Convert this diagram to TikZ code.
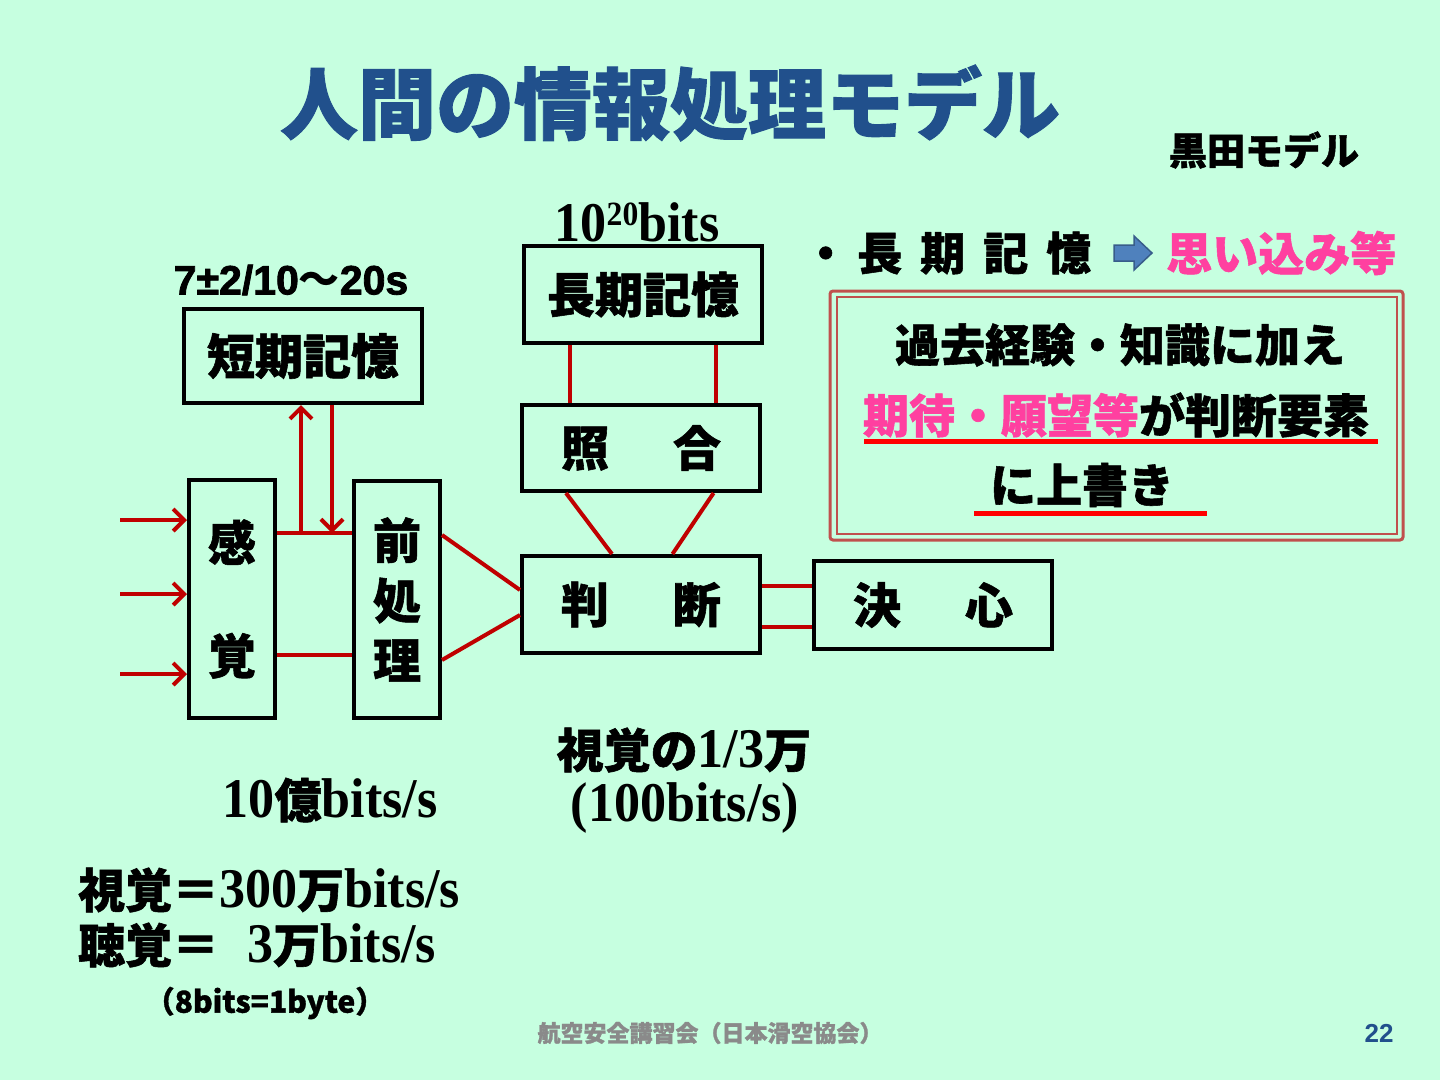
\documentclass[tikz,border=0pt]{standalone}
\usepackage{fontspec}
\usetikzlibrary{arrows.meta,calc}
\setmainfont{Liberation Serif}
\newfontfamily\jp[FakeBold=1.2]{Noto Sans CJK JP}
\newfontfamily\jpn{Noto Sans CJK JP}
\newfontfamily\ser[FakeStretch=0.93]{Liberation Serif}
\newfontfamily\sansf{Liberation Sans}
\newfontfamily\sansh[FakeBold=2]{Liberation Sans}
\newcommand\fsz[1]{\fontsize{#1}{#1}\selectfont}
\newcommand\serf{\ser\bfseries\fsz{56}}
\newcommand\cjf{\jp\bfseries\fsz{47}}
\definecolor{bg}{HTML}{C6FFE0}
\definecolor{linered}{HTML}{C00000}
\definecolor{boxred}{HTML}{C0504D}
\definecolor{pinkt}{HTML}{FF40A0}
\definecolor{titleblue}{HTML}{21508C}
\definecolor{ulred}{HTML}{FF0000}
\definecolor{arrblue}{HTML}{4F81BD}
\definecolor{arrblueb}{HTML}{385D8A}
\definecolor{footgray}{HTML}{8A8A8A}
\tikzset{
  box/.style={draw=black, line width=4pt, inner sep=0pt, font=\jp\bfseries\fsz{48}},
  rl/.style={draw=linered, line width=4pt},
  arr/.style={draw=linered, line width=4pt, -{Straight Barb[length=11pt,width=22pt]}},
  txt/.style={inner sep=0pt},
}
\begin{document}
\begin{tikzpicture}[x=1pt,y=-1pt]
\useasboundingbox (0,0) rectangle (1440,1080);
\fill[bg] (0,0) rectangle (1440,1080);

% title
\node[txt, font=\jp\bfseries\fsz{78}, text=titleblue] (title) at (670,103) {人間の情報処理モデル};
\node[txt, font=\jp\bfseries\fsz{38}] (kuroda) at (1264,150) {黒田モデル};

% boxes
\node[box, minimum width=238pt, minimum height=94pt] (stm) at (303,356) {短期記憶};
\node[box, minimum width=238pt, minimum height=97pt] (ltm) at (643,294.5) {長期記憶};
\node[box, minimum width=238pt, minimum height=86pt] (match) at (641,448) {照\hspace{64pt}合};
\node[box, minimum width=238pt, minimum height=97pt] (judge) at (641,604.5) {判\hspace{64pt}断};
\node[box, minimum width=238pt, minimum height=88pt] (decide) at (933,605) {決\hspace{64pt}心};
\node[box, minimum width=86pt, minimum height=238pt, align=center, font=\jp\bfseries\fontsize{48}{113}\selectfont] (sense) at (232,599) {感\\覚};
\node[box, minimum width=86pt, minimum height=237pt, align=center, font=\jp\bfseries\fontsize{48}{60}\selectfont] (pre) at (397,599.5) {前\\処\\理};

% labels above boxes
\node[txt] (ltmlab) at (637,222) {\ser\bfseries\fsz{56}10\raisebox{16pt}{\fsz{34}20}bits};
\node[txt] (stmlab) at (291,280) {\sansh\bfseries\fsz{41}7±2/10{\jpn\bfseries ～}20s};

% connectors
\draw[rl] ($(ltm.south west)!.2!(ltm.south east)$) coordinate (a1) -- (a1 |- match.north);
\draw[rl] ($(ltm.south west)!.8!(ltm.south east)$) coordinate (a2) -- (a2 |- match.north);
\draw[rl] ($(match.south west)!.19!(match.south east)$) -- ($(judge.north west)!.38!(judge.north east)$);
\draw[rl] ($(match.south west)!.80!(match.south east)$) -- ($(judge.north west)!.63!(judge.north east)$);
\draw[rl] ([yshift=18.5pt]judge.east) coordinate (b1) -- (b1 -| decide.west);
\draw[rl] ([yshift=-22.5pt]judge.east) coordinate (b2) -- (b2 -| decide.west);
\draw[rl] ([yshift=64.5pt]pre.east) -- ([yshift=14.5pt]judge.west);
\draw[rl] ([yshift=-60.5pt]pre.east) -- ([yshift=-10.5pt]judge.west);
\draw[rl] ([yshift=66pt]sense.east) coordinate (c1) -- (c1 -| pre.west);
\draw[rl] ([yshift=-56pt]sense.east) coordinate (c2) -- (c2 -| pre.west);
\coordinate (j1) at ($(c1)+(24,0)$);
\coordinate (j2) at ($(c1)+(55,0)$);
\draw[arr] (j1) -- (j1 |- stm.south);
\draw[arr] (j2 |- stm.south) -- (j2);
\coordinate (i1) at (120,520);
\coordinate (i2) at (120,594);
\coordinate (i3) at (120,674);
\draw[arr] (i1) -- (i1 -| sense.west);
\draw[arr] (i2) -- (i2 -| sense.west);
\draw[arr] (i3) -- (i3 -| sense.west);

% right side note
\node[txt, anchor=west, font=\jp\bfseries\fsz{45}] (ltmnote) at (803,253) {・\hspace{9pt}長\hspace{18pt}期\hspace{18pt}記\hspace{18pt}憶};
\filldraw[fill=arrblue, draw=arrblueb, line width=1.5pt] (1114,245) -- (1134,245) -- (1134,236) -- (1152,253) -- (1134,270) -- (1134,261) -- (1114,261) -- cycle;
\node[txt, anchor=west, font=\jp\bfseries\fsz{46}, text=pinkt] (omoi) at (1166,253) {思い込み等};

\draw[boxred, line width=3pt, rounded corners=3pt] (830,291) rectangle (1403,540);
\draw[boxred, line width=2pt] (837,297) rectangle (1397,534);
\node[txt, font=\jp\bfseries\fsz{45}] (l1) at (1120,345) {過去経験・知識に加え};
\node[txt, font=\jp\bfseries\fsz{46}] (l2) at (1116,415) {\textcolor{pinkt}{期待・願望等}が判断要素};
\draw[ulred, line width=5pt] (864,441) -- (1378,441);
\node[txt, font=\jp\bfseries\fsz{46}] (l3) at (1082,485) {に上書き};
\draw[ulred, line width=5pt] (974,513) -- (1207,513);

% rates
\node[txt] (rate1) at (330,800) {\serf 10{\cjf 億}bits/s};
\node[txt] (rate2) at (684,750) {{\cjf 視覚の}{\serf 1/3}{\cjf 万}};
\node[txt] (rate3) at (685,808) {\serf (100bits/s)};
\node[txt, anchor=west] (vis) at (78,890) {{\cjf 視覚＝}{\serf 300}{\cjf 万}{\serf bits/s}};
\node[txt, anchor=west] (aud) at (78,945) {{\cjf 聴覚＝}\hspace{28pt}{\serf 3}{\cjf 万}{\serf bits/s}};
\node[txt, font=\jp\bfseries\fsz{30}] (byte) at (265,1003) {（8bits=1byte）};

% footer
\node[txt, font=\jp\bfseries\fsz{23}, text=footgray] (foot) at (710,1033) {航空安全講習会（日本滑空協会）};
\node[txt, font=\sansf\bfseries\fsz{26}, text=titleblue] (page) at (1379,1033) {22};
\end{tikzpicture}
\end{document}
